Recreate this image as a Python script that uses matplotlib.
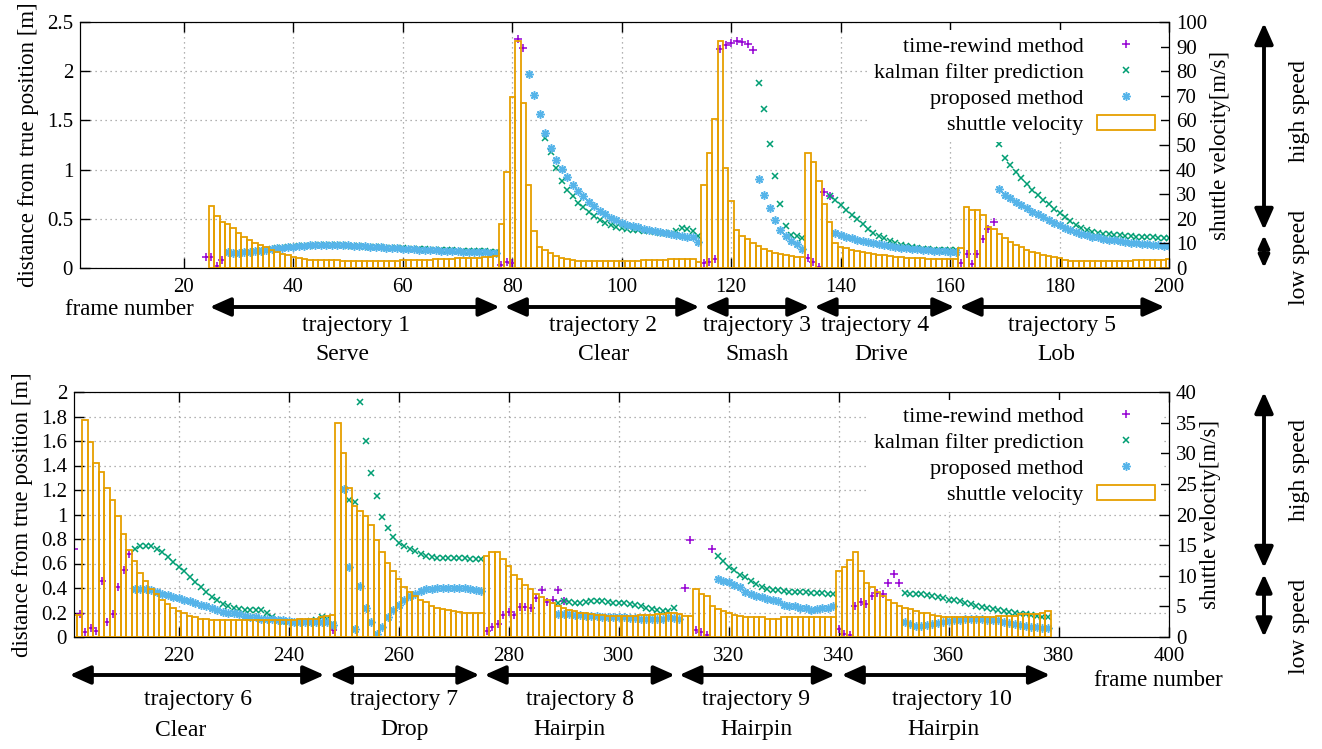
import numpy as np
import matplotlib
matplotlib.use('Agg')
import matplotlib.pyplot as plt
from matplotlib.ticker import FormatStrFormatter, MultipleLocator
from matplotlib.transforms import blended_transform_factory

plt.rcParams['font.family'] = ['Liberation Serif', 'DejaVu Serif']
plt.rcParams['font.size'] = 16

C_REWIND = '#9400D3'
C_KALMAN = '#009E73'
C_PROPOSED = '#56B4E9'
C_VEL = '#E69F00'
STAR = (8, 2, 0)

# ---------------- top panel (frames 1-200) ----------------
top_vel_start = 25
top_vel = [25.3, 21.2, 18.8, 17.7, 16.4, 14.3, 12.7, 11.3, 10.3, 9.3,
           8.4, 7.3, 6.4, 5.6, 5.1, 4.4, 4.0, 3.6, 3.3, 3.3,
           3.2, 3.2, 3.1, 3.1, 3.0, 3.0, 3.0, 3.0, 3.0, 3.0,
           3.0, 3.0, 3.0, 3.0, 3.0, 3.3, 3.3, 3.3, 3.3, 3.3,
           3.3, 3.7, 3.7, 3.7, 3.7, 4.0, 4.0, 4.0, 4.0, 4.0,
           4.4, 4.5, 4.7,
           17.9, 39.2, 69.4, 92.4, 66.9, 33.7, 15.0, 8.7, 7.3, 6.0,
           5.0, 4.2, 3.5, 3.1, 2.8, 2.8, 2.8, 2.8, 2.8, 2.8,
           2.8, 2.8, 2.8, 2.8, 2.8, 2.8, 3.3, 3.3, 3.3, 3.3,
           3.3, 3.5, 3.5, 3.5, 3.5, 3.5, 2.6,
           33.7, 46.9, 60.4, 92.4, 40.5, 27.4, 15.4, 13.1, 11.7, 10.3,
           8.8, 7.6, 6.9, 6.2, 5.6, 5.1, 4.9, 4.3, 4.6,
           46.9, 43.2, 35.5, 26.0, 18.8, 10.0, 8.7, 8.0,
           7.3, 7.0, 6.6, 6.2, 5.8, 5.4, 5.1, 4.8, 4.6, 4.3,
           4.0, 3.9, 3.9, 3.9, 3.5, 3.5, 3.5, 3.5, 3.5, 3.5,
           8.3, 24.7, 23.6, 23.6, 21.5, 16.5, 15.7, 13.8, 12.3, 10.7,
           9.3, 8.4, 7.3, 6.6, 6.0, 5.3, 5.0, 4.6, 4.2,
           3.3, 3.0, 3.0, 3.0, 3.0, 3.0, 3.0, 3.0, 3.0, 3.0,
           3.0, 3.0, 3.0, 3.3, 3.3, 3.3, 3.3, 3.3, 3.3, 3.5]

top_rewind_frames = [24, 25, 26, 27, 78, 79, 80, 81, 82,
                     115, 116, 117, 118, 119, 120, 121, 122, 123, 124,
                     134, 135, 136, 137, 138,
                     162, 163, 164, 165, 166, 167, 168]
top_rewind = [0.107, 0.107, 0.017, 0.083, 0.03, 0.06, 0.05, 2.33, 2.24,
              0.054, 0.064, 0.088, 2.23, 2.27, 2.29, 2.31, 2.30, 2.28, 2.215,
              0.105, 0.064, 0.014, 0.776, 0.735,
              0.054, 0.139, 0.037, 0.139, 0.298, 0.396, 0.467]

top_kalman_starts = [28, 86, 125, 138, 169]
top_kalman = [
    [0.15, 0.15, 0.155, 0.16, 0.165, 0.17, 0.18, 0.185, 0.19, 0.20,
     0.205, 0.21, 0.215, 0.22, 0.225, 0.225, 0.23, 0.23, 0.23, 0.23,
     0.23, 0.23, 0.225, 0.225, 0.22, 0.215, 0.215, 0.21, 0.21, 0.205,
     0.205, 0.20, 0.20, 0.195, 0.195, 0.19, 0.19, 0.185, 0.185, 0.18,
     0.18, 0.18, 0.175, 0.175, 0.175, 0.17, 0.17, 0.17, 0.165, 0.165],
    [1.32, 1.18, 1.02, 0.88, 0.79, 0.73, 0.66, 0.62, 0.57, 0.53,
     0.49, 0.46, 0.44, 0.42, 0.41, 0.40, 0.39, 0.39, 0.38, 0.38,
     0.37, 0.36, 0.36, 0.35, 0.38, 0.41, 0.40, 0.38, 0.33],
    [1.88, 1.62, 1.26, 0.93, 0.65, 0.43, 0.335, 0.325, 0.30],
    [0.73, 0.69, 0.64, 0.59, 0.54, 0.50, 0.45, 0.40, 0.36, 0.33,
     0.30, 0.27, 0.25, 0.23, 0.22, 0.21, 0.20, 0.195, 0.19, 0.185,
     0.185, 0.18, 0.18, 0.18],
    [1.26, 1.12, 1.05, 0.98, 0.91, 0.85, 0.79, 0.74, 0.69, 0.65,
     0.60, 0.56, 0.52, 0.48, 0.44, 0.41, 0.385, 0.37, 0.36, 0.35,
     0.345, 0.34, 0.335, 0.33, 0.325, 0.32, 0.315, 0.31, 0.31, 0.305,
     0.30, 0.30],
]

top_proposed_starts = [28, 83, 125, 139, 169]
top_proposed = [
    [0.16, 0.15, 0.155, 0.16, 0.165, 0.17, 0.175, 0.18, 0.19, 0.20,
     0.205, 0.21, 0.215, 0.22, 0.225, 0.23, 0.23, 0.235, 0.235, 0.235,
     0.235, 0.23, 0.23, 0.225, 0.22, 0.22, 0.215, 0.21, 0.21, 0.205,
     0.20, 0.20, 0.195, 0.19, 0.19, 0.185, 0.185, 0.18, 0.18, 0.175,
     0.175, 0.17, 0.17, 0.165, 0.165, 0.16, 0.16, 0.16, 0.155, 0.155],
    [1.97, 1.76, 1.57, 1.37, 1.22, 1.10, 1.01, 0.92, 0.84, 0.78,
     0.73, 0.67, 0.63, 0.58, 0.55, 0.51, 0.49, 0.46, 0.44, 0.43,
     0.42, 0.40, 0.39, 0.38, 0.37, 0.36, 0.35, 0.34, 0.33, 0.32,
     0.31, 0.26],
    [0.90, 0.74, 0.61, 0.49, 0.39, 0.325, 0.275, 0.24, 0.19],
    [0.36, 0.335, 0.32, 0.30, 0.285, 0.27, 0.26, 0.25, 0.24, 0.23,
     0.22, 0.21, 0.205, 0.20, 0.195, 0.19, 0.185, 0.18, 0.175, 0.17,
     0.17, 0.165, 0.165],
    [0.80, 0.74, 0.71, 0.67, 0.64, 0.61, 0.57, 0.55, 0.52, 0.49,
     0.46, 0.44, 0.41, 0.39, 0.37, 0.35, 0.335, 0.32, 0.31, 0.295,
     0.285, 0.28, 0.27, 0.26, 0.255, 0.25, 0.245, 0.24, 0.235, 0.23,
     0.225, 0.22],
]

top_traj_spans = [(24.7, 77.7), (78.6, 114.2), (115.1, 134.3), (135.2, 160.8), (161.7, 199.2)]
top_traj_names = ['trajectory 1', 'trajectory 2', 'trajectory 3', 'trajectory 4', 'trajectory 5']
top_traj_kinds = ['Serve', 'Clear', 'Smash', 'Drive', 'Lob']
top_name_x = [51.4, 96.5, 124.8, 146.2, 180.4]
top_kind_x = [48.9, 96.7, 124.8, 147.5, 179.5]

# ---------------- bottom panel (frames 201-400) ----------------
bot_vel_start = 201
bot_vel = [3.6, 3.6, 35.5, 31.9, 28.4, 26.9, 24.4, 22.4, 19.8, 16.8,
           14.2, 12.4, 10.5, 9.1, 7.9, 7.0, 6.1, 5.4, 4.8, 4.3,
           3.9, 3.4, 3.2, 3.0, 2.9, 2.8, 2.7, 2.7, 2.7, 2.7,
           2.7, 2.7, 2.7, 2.7, 2.7, 2.7, 2.8, 2.8, 2.8, 2.8,
           2.8, 3.0, 3.0, 3.0, 3.0, 3.2, 3.4, 3.6,
           35.0, 30.0, 24.4, 21.4, 20.6, 19.8, 18.3, 15.8, 13.9, 12.1,
           10.7, 9.4, 8.2, 7.4, 6.7, 6.1, 5.7, 5.1, 4.8, 4.6,
           4.4, 4.2, 4.1, 4.0, 4.0, 4.0, 4.0,
           13.2, 13.9, 13.9, 12.8, 11.6, 10.1, 9.4, 8.5, 7.8, 7.1,
           6.6, 6.0, 5.5, 5.1, 4.7, 4.4, 4.2, 4.0, 3.9, 3.8,
           3.6, 3.6, 3.4, 3.4, 3.4, 3.4, 3.4, 3.4, 3.6, 3.6,
           3.6, 3.8, 3.8, 3.9, 3.9, 3.7, 3.5,
           3.4, 7.9, 7.1, 6.7, 5.1, 4.5, 4.2, 3.9, 3.6, 3.4,
           3.3, 3.3, 3.3, 3.3, 3.0, 3.0, 3.0, 3.2, 3.2, 3.2,
           3.3, 3.3, 3.3, 3.3, 3.3, 3.2, 3.3,
           10.7, 11.4, 12.6, 13.9, 10.7, 8.8, 8.1, 7.4, 6.7, 6.1,
           5.6, 5.1, 4.8, 4.6, 4.3, 4.0, 3.9, 3.6, 3.4, 3.3,
           3.3, 3.3, 3.3, 3.2, 3.2, 3.2, 3.3, 3.3, 3.3, 3.5,
           3.5, 3.5, 3.5, 3.8, 3.8, 3.8, 3.8, 4.0, 4.2]

bot_rewind_frames = [201, 202, 203, 204, 205, 206, 207, 208, 209, 210, 211,
                     248,
                     276, 277, 278, 279, 280, 281, 282, 283, 284, 285, 286, 287, 288, 289, 290,
                     312, 313, 314, 315, 316, 317,
                     340, 341, 342, 343, 344, 345, 346, 347, 348, 349, 350, 351]
bot_rewind = [0.72, 0.19, 0.04, 0.07, 0.05, 0.46, 0.12, 0.19, 0.41, 0.55, 0.68,
              0.06,
              0.052, 0.084, 0.106, 0.18, 0.207, 0.18, 0.242, 0.248, 0.234, 0.321, 0.384,
              0.288, 0.302, 0.384, 0.297,
              0.40, 0.79, 0.06, 0.04, 0.02, 0.72,
              0.063, 0.024, 0.016, 0.253, 0.288, 0.269, 0.335, 0.362, 0.351, 0.444, 0.512, 0.438]

bot_kalman_starts = [212, 251, 289, 318, 352]
bot_kalman = [
    [0.72, 0.74, 0.745, 0.74, 0.72, 0.69, 0.65, 0.615, 0.575, 0.535,
     0.49, 0.45, 0.41, 0.37, 0.33, 0.30, 0.27, 0.25, 0.235, 0.225,
     0.22, 0.22, 0.22, 0.22, 0.20, 0.165, 0.14, 0.125, 0.12, 0.115,
     0.12, 0.125, 0.13, 0.14, 0.16, 0.145, 0.11],
    [1.12, 1.10, 1.92, 1.60, 1.34, 1.15, 0.98, 0.89, 0.82, 0.77,
     0.74, 0.72, 0.70, 0.68, 0.66, 0.65, 0.645, 0.645, 0.645, 0.645,
     0.645, 0.645, 0.64, 0.64, 0.64],
    [0.28, 0.29, 0.285, 0.28, 0.28, 0.285, 0.29, 0.29, 0.29, 0.285,
     0.28, 0.28, 0.275, 0.27, 0.26, 0.25, 0.24, 0.23, 0.22, 0.215,
     0.215, 0.235],
    [0.66, 0.62, 0.57, 0.55, 0.51, 0.49, 0.46, 0.43, 0.41, 0.39,
     0.385, 0.38, 0.375, 0.37, 0.37, 0.365, 0.365, 0.36, 0.36, 0.36,
     0.355, 0.35],
    [0.36, 0.355, 0.355, 0.35, 0.345, 0.335, 0.325, 0.315, 0.305, 0.30,
     0.29, 0.28, 0.27, 0.255, 0.245, 0.235, 0.225, 0.22, 0.215, 0.205,
     0.20, 0.19, 0.185, 0.18, 0.17, 0.165, 0.16],
]

bot_proposed_starts = [212, 250, 289, 318, 352]
bot_proposed = [
    [0.39, 0.39, 0.39, 0.385, 0.37, 0.355, 0.345, 0.33, 0.315, 0.30,
     0.29, 0.275, 0.26, 0.25, 0.235, 0.22, 0.205, 0.20, 0.195, 0.185,
     0.175, 0.165, 0.16, 0.15, 0.145, 0.145, 0.14, 0.135, 0.13, 0.125,
     0.125, 0.125, 0.12, 0.12, 0.125, 0.12, 0.10],
    [1.21, 0.57, 0.065, 0.42, 0.24, 0.12, 0.025, 0.085, 0.16, 0.22,
     0.26, 0.30, 0.335, 0.355, 0.375, 0.39, 0.395, 0.40, 0.40, 0.40,
     0.40, 0.40, 0.40, 0.395, 0.385, 0.375],
    [0.19, 0.19, 0.185, 0.18, 0.18, 0.175, 0.175, 0.17, 0.165, 0.165,
     0.16, 0.16, 0.16, 0.155, 0.155, 0.15, 0.15, 0.145, 0.145, 0.15,
     0.16, 0.155, 0.15],
    [0.47, 0.455, 0.445, 0.425, 0.405, 0.37, 0.35, 0.335, 0.325, 0.31,
     0.30, 0.295, 0.26, 0.255, 0.25, 0.24, 0.24, 0.22, 0.225, 0.235,
     0.24, 0.25],
    [0.125, 0.105, 0.09, 0.09, 0.10, 0.105, 0.115, 0.125, 0.13, 0.14,
     0.14, 0.145, 0.145, 0.145, 0.145, 0.14, 0.135, 0.135, 0.125, 0.115,
     0.105, 0.10, 0.09, 0.085, 0.08, 0.075, 0.07],
]

bot_traj_spans = [(200.2, 246.5), (247.5, 274.7), (275.6, 310.2), (311.0, 339.3), (340.5, 378.4)]
bot_traj_names = ['trajectory 6', 'trajectory 7', 'trajectory 8', 'trajectory 9', 'trajectory 10']
bot_traj_kinds = ['Clear', 'Drop', 'Hairpin', 'Hairpin', 'Hairpin']
bot_name_x = [223.5, 261.0, 293.0, 325.0, 360.5]
bot_kind_x = [220.4, 261.0, 291.0, 325.0, 359.0]


def segments(starts, values):
    xs, ys = [], []
    for s, v in zip(starts, values):
        xs.extend(range(s, s + len(v)))
        ys.extend(v)
    return xs, ys


fig = plt.figure(figsize=(13.22, 7.49), dpi=100)


def draw_panel(rect, xlim, xticks, ylim, ystep, vlim, vstep,
               vel_start, vel, rw_x, rw_y, kf, pm):
    ax = fig.add_axes(rect)
    ax2 = ax.twinx()
    ax.set_xlim(*xlim)
    ax.set_ylim(*ylim)
    ax2.set_ylim(*vlim)

    ax.plot(rw_x, rw_y, ls='none', marker='+', ms=6, mew=1.1, color=C_REWIND,
            label='time-rewind method')
    kx, ky = segments(*kf)
    ax.plot(kx, ky, ls='none', marker='x', ms=5, mew=1.1, color=C_KALMAN,
            label='kalman filter prediction')
    px, py = segments(*pm)
    ax.plot(px, py, ls='none', marker=STAR, ms=6, mew=1.1, color=C_PROPOSED,
            label='proposed method')
    vx = np.arange(vel_start, vel_start + len(vel))
    ax2.bar(vx, vel, width=1.0, fill=False, edgecolor=C_VEL, linewidth=1.3,
            label='shuttle velocity')

    ax.set_xticks(xticks)
    ax.yaxis.set_major_locator(MultipleLocator(ystep))
    ax.yaxis.set_major_formatter(FormatStrFormatter('%g'))
    ax2.yaxis.set_major_locator(MultipleLocator(vstep))
    ax.grid(True, ls=(0, (1, 3)), color='#999999', lw=0.9)
    ax.tick_params(direction='in', length=7, width=1, top=True, labelsize=15, pad=5)
    ax.tick_params(axis='x', pad=7)
    ax2.tick_params(direction='in', length=7, width=1, labelsize=15, pad=5)
    ax.set_ylabel('distance from true position [m]', fontsize=16.5, labelpad=6)
    ax2.set_ylabel('shuttle velocity[m/s]', fontsize=16.5, labelpad=2)

    h1, l1 = ax.get_legend_handles_labels()
    h2, l2 = ax2.get_legend_handles_labels()
    ax2.legend(h1 + h2, l1 + l2, loc='upper right', markerfirst=False, frameon=True,
               fancybox=False, edgecolor='none', facecolor='white', framealpha=1,
               handlelength=2.6, handletextpad=0.6, labelspacing=0.25,
               borderaxespad=0.35, borderpad=0.3, fontsize=16)
    return ax, ax2


def traj_labels(ax, spans, names, kinds, name_x, kind_x, y_arrow, y_name, y_kind):
    tr = blended_transform_factory(ax.transData, fig.transFigure)
    for (a, b), name, kind, nx, kx in zip(spans, names, kinds, name_x, kind_x):
        ax.annotate('', xy=(b, y_arrow), xytext=(a, y_arrow), xycoords=tr, textcoords=tr,
                    annotation_clip=False,
                    arrowprops=dict(arrowstyle='<|-|>,head_length=0.9,head_width=0.4',
                                    lw=2.8, color='black', shrinkA=0, shrinkB=0,
                                    mutation_scale=14))
        ax.text(nx, y_name, name, transform=tr, ha='center', va='center', fontsize=17)
        ax.text(kx, y_kind, kind, transform=tr, ha='center', va='center', fontsize=17)


def speed_arrow(y0, y1, scale):
    fig.add_artist(matplotlib.patches.FancyArrowPatch(
        (1264 / 1322, y0), (1264 / 1322, y1), transform=fig.transFigure,
        arrowstyle='<|-|>,head_length=0.9,head_width=0.4', lw=2.8,
        color='black', mutation_scale=scale, shrinkA=0, shrinkB=0))


def speed_marks(y_top, y_mid_hi, y_mid_lo, y_bot, y_hi_text, y_lo_text, low_scale):
    speed_arrow(y_top, y_mid_hi, 14)
    speed_arrow(y_mid_lo, y_bot, low_scale)
    x_text = 1300 / 1322
    fig.text(x_text, y_hi_text, 'high speed', rotation=90, ha='center', va='center', fontsize=17)
    fig.text(x_text, y_lo_text, 'low speed', rotation=90, ha='center', va='center', fontsize=17)


ax_top, ax_top2 = draw_panel([80 / 1322, 1 - 268 / 749, 1089 / 1322, 246 / 749],
                             (1, 200), range(20, 201, 20), (0, 2.5), 0.5, (0, 100), 10,
                             top_vel_start, top_vel, top_rewind_frames, top_rewind,
                             (top_kalman_starts, top_kalman), (top_proposed_starts, top_proposed))
ax_bot, ax_bot2 = draw_panel([74 / 1322, 1 - 637 / 749, 1095 / 1322, 245 / 749],
                             (201, 400), range(220, 401, 20), (0, 2.0), 0.2, (0, 40), 5,
                             bot_vel_start, bot_vel, bot_rewind_frames, bot_rewind,
                             (bot_kalman_starts, bot_kalman), (bot_proposed_starts, bot_proposed))

traj_labels(ax_top, top_traj_spans, top_traj_names, top_traj_kinds, top_name_x, top_kind_x,
            1 - 307 / 749, 1 - 326 / 749, 1 - 354 / 749)
traj_labels(ax_bot, bot_traj_spans, bot_traj_names, bot_traj_kinds, bot_name_x, bot_kind_x,
            1 - 675 / 749, 1 - 699 / 749, 1 - 730 / 749)

fig.text(129 / 1322, 1 - 309 / 749, 'frame number', ha='center', va='center', fontsize=16.5)
fig.text(1158 / 1322, 1 - 681 / 749, 'frame number', ha='center', va='center', fontsize=16.5)

speed_marks(1 - 23 / 749, 1 - 230 / 749, 1 - 235 / 749, 1 - 268 / 749,
            1 - 111 / 749, 1 - 257 / 749, 8)
speed_marks(1 - 392 / 749, 1 - 568 / 749, 1 - 574 / 749, 1 - 637 / 749,
            1 - 470 / 749, 1 - 626 / 749, 12)

fig.savefig('out.png', dpi=100)
